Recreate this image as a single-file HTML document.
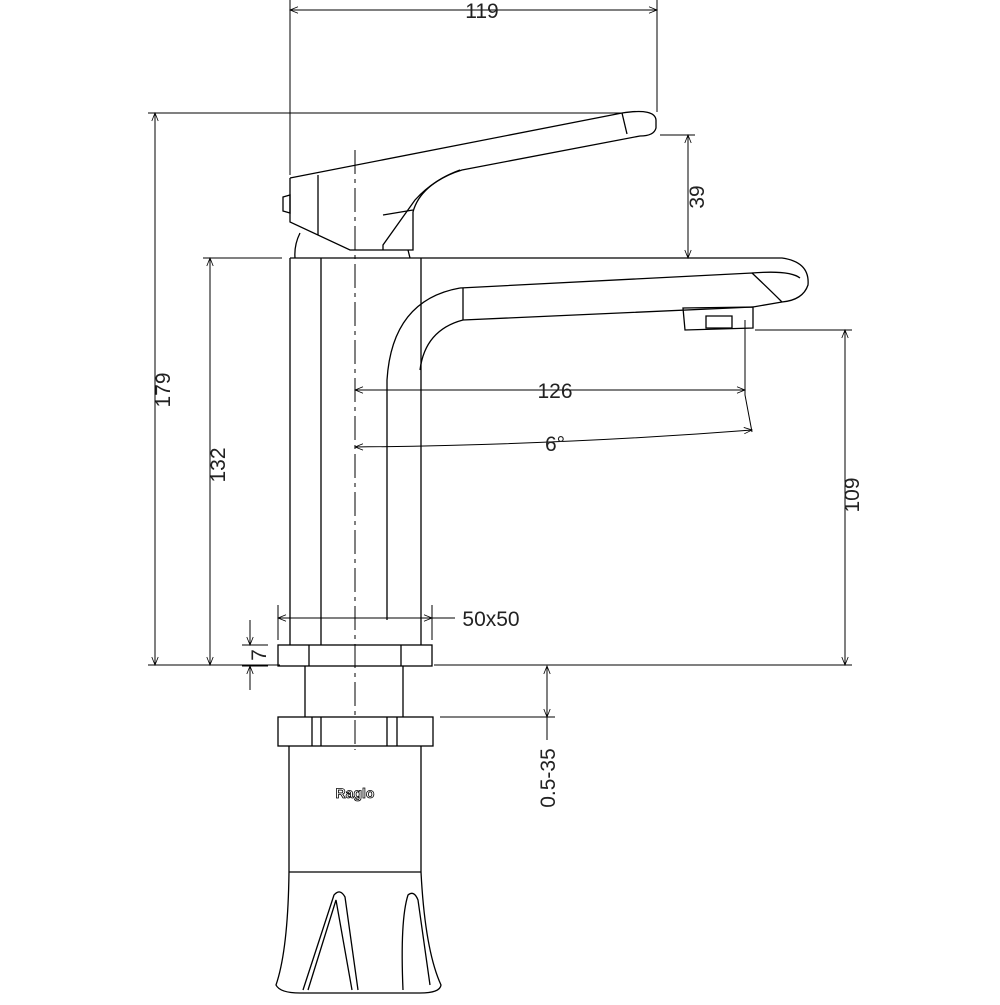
<!DOCTYPE html>
<html><head><style>html,body{margin:0;padding:0;background:#fff}</style></head><body>
<svg width="1000" height="1000" viewBox="0 0 1000 1000" xmlns="http://www.w3.org/2000/svg" font-family="Liberation Sans, sans-serif">
<defs>
<marker id="a" viewBox="0 0 10 10" refX="10" refY="5" markerWidth="10" markerHeight="8" orient="auto-start-reverse" markerUnits="userSpaceOnUse"><path d="M0,1 L10,5 L0,9" fill="none" stroke="#000" stroke-width="1"/></marker>
</defs>
<g fill="none" stroke="#000" stroke-width="1.3">
<!-- handle -->
<path d="M290,178 L622,113 Q655,108 656,120 L656,128 Q654,136 640,136 L462,170 Q435,178 415,200 L383,245 L383,250"/>
<path d="M290,178 L290,222 L350,250 L413,250 L413,212 Q420,185 460,170"/>
<path d="M383,215 L413,210"/>
<path d="M318,175 L318,235"/>
<path d="M622,113 L627,134"/>
<path d="M283,197 L290,195 L290,213 L283,211 Z"/>
<path d="M300,233 Q294,245 295,258 M408,250 L410,258"/>
<!-- spout -->
<path d="M290,258 L782,258 Q810,262 808,285 Q803,300 782,302 L753,307"/>
<path d="M752,273 Q790,270 800,278"/>
<path d="M460,288 L752,273 Q770,290 782,302 M753,307 L463,320"/>
<path d="M460,288 Q392,300 387,380 L387,620"/>
<path d="M463,320 Q425,330 420,370"/>
<path d="M463,288 L463,320"/>
<path d="M683,308 L753,307 L753,328 L685,330 Z"/>
<path d="M706,316 L732,316 L732,328 L706,328 Z"/>
<!-- body -->
<path d="M290,258 L290,645 M421,258 L421,645"/>
<path d="M321,258 L321,645"/>
<rect x="278" y="645" width="154" height="21"/>
<path d="M309,645 L309,666 M401,645 L401,666"/>
<path d="M305,666 L305,717 M403,666 L403,717"/>
<rect x="278" y="717" width="155" height="29"/>
<path d="M312,717 L312,746 M321,717 L321,746 M387,717 L387,746 M397,717 L397,746"/>
<path d="M289,746 L289,872 M421,746 L421,872 M289,872 L421,872"/>
<path d="M289,872 Q288,950 276,985 Q280,993 300,993 L420,993 Q440,993 441,985 Q425,950 421,872"/>
<path d="M303,990 L334,895 Q340,888 345,897 L358,990"/>
<path d="M308,990 L336,900 L352,990"/>
<path d="M403,990 Q400,920 408,895 Q414,890 418,900 L430,985"/>
</g>
<text x="355" y="798" font-size="14" font-weight="bold" text-anchor="middle" fill="#fff" stroke="#000" stroke-width="0.8">Raglo</text>
<path d="M355,150 L355,750" stroke="#000" stroke-width="1" stroke-dasharray="24,5,4,5"/>
<g fill="none" stroke="#000" stroke-width="1">
<path d="M290,0 L290,175 M657,0 L657,112"/>
<path d="M290,10 L657,10" marker-start="url(#a)" marker-end="url(#a)"/>
<path d="M148,113 L622,113 M148,665 L280,665 M434,665 L852,665"/>
<path d="M155,113 L155,665" marker-start="url(#a)" marker-end="url(#a)"/>
<path d="M203,258 L282,258"/>
<path d="M210,258 L210,665" marker-start="url(#a)" marker-end="url(#a)"/>
<path d="M660,135 L695,135"/>
<path d="M688,135 L688,258" marker-start="url(#a)" marker-end="url(#a)"/>
<path d="M755,330 L852,330"/>
<path d="M845,330 L845,665" marker-start="url(#a)" marker-end="url(#a)"/>
<path d="M745,320 L745,395 L752,432"/>
<path d="M355,390 L745,390" marker-start="url(#a)" marker-end="url(#a)"/>
<path d="M355,447 Q560,445 752,430" marker-start="url(#a)" marker-end="url(#a)"/>
<path d="M278,605 L278,640 M432,605 L432,640"/>
<path d="M278,618 L432,618" marker-start="url(#a)" marker-end="url(#a)"/>
<path d="M432,618 L455,618"/>
<path d="M242,645 L268,645 M242,666 L268,666"/>
<path d="M250,620 L250,645" marker-end="url(#a)"/>
<path d="M250,690 L250,666" marker-end="url(#a)"/>
<path d="M440,717 L555,717"/>
<path d="M547,666 L547,717" marker-start="url(#a)" marker-end="url(#a)"/>
<path d="M547,717 L547,740"/>
</g>
<g font-size="21" fill="#222" text-anchor="middle">
<text x="482" y="18">119</text>
<text x="555" y="398">126</text>
<text x="555" y="451">6°</text>
<text x="491" y="626">50x50</text>
<text transform="translate(170,390) rotate(-90)">179</text>
<text transform="translate(225,465) rotate(-90)">132</text>
<text transform="translate(704,197) rotate(-90)">39</text>
<text transform="translate(859,495) rotate(-90)">109</text>
<text transform="translate(266,655) rotate(-90)">7</text>
<text transform="translate(555,778) rotate(-90)">0.5-35</text>
</g>
</svg>
</body></html>
